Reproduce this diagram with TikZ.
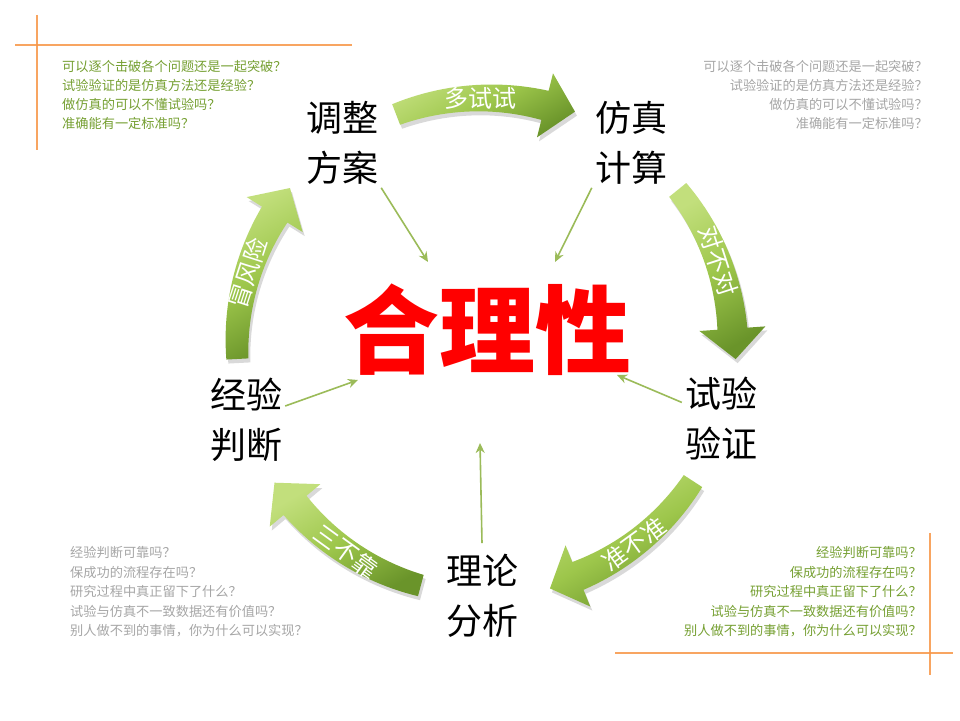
\documentclass[tikz,border=0pt]{standalone}
\usepackage{fontspec}
\newfontfamily\cjk{Noto Sans CJK SC}
\usetikzlibrary{arrows.meta,calc}
\definecolor{ogreen}{HTML}{9BBB59}
\definecolor{qgreen}{HTML}{76A032}
\definecolor{qgrey}{HTML}{A6A6A6}
\definecolor{orng}{HTML}{F79646}
\definecolor{glight}{HTML}{C2DF7C}
\definecolor{gmid}{HTML}{9DC64B}
\definecolor{gdark}{HTML}{6A942A}
\tikzset{
  bignode/.style={font=\cjk\fontsize{36}{50}\selectfont, align=center, inner sep=3pt, text=black},
  qline/.style={font=\cjk\fontsize{13.2}{14}\selectfont, inner sep=0pt},
  conn/.style={draw=ogreen, line width=1.6pt, -{Stealth[length=10pt,width=9pt]}},
  arrowlabel/.style={font=\cjk\fontsize{24}{26}\selectfont, text=white, inner sep=0pt},
  orangeline/.style={draw=orng, line width=1.6pt, opacity=0.85},
}
\newcommand\cyarrow[5]{% #1 name, #2 mid angle, #3 label, #4 label rotation, #5 label angle
  \pgfmathsetmacro\aT{#2+21}%
  \pgfmathsetmacro\aB{#2-14}%
  \pgfmathsetmacro\aP{#2-21}%
  \def\cypath{plot[domain=\aT:\aB,samples=25] (\x:{248+11+4*(\aT-\x)/35}) -- (\aB:281) -- (\aP:251) -- (\aB:215) -- plot[domain=\aB:\aT,samples=25] (\x:{248-11-4*(\aT-\x)/35}) -- cycle}%
  \begin{scope}[shift={(485,374)}]
    \fill[black,opacity=0.15,shift={(2,-4)}] \cypath;
    \shade[top color=glight, bottom color=gdark, middle color=gmid, shading angle=30] \cypath;
    \node[arrowlabel, rotate=#4] (#1) at (#5:248) {#3};
  \end{scope}}
\begin{document}
\begin{tikzpicture}[x=1pt,y=1pt]
\fill[white] (0,0) rectangle (960,720);
\useasboundingbox (0,0) rectangle (960,720);

% orange corner lines
\draw[orangeline] (15,675) -- (352,675);
\draw[orangeline] (37,705) -- (37,570);
\draw[orangeline] (615,67) -- (953,67);
\draw[orangeline] (930,187) -- (930,45);

% question texts
\foreach \t [count=\i] in {可以逐个击破各个问题还是一起突破？,试验验证的是仿真方法还是经验？,做仿真的可以不懂试验吗？,准确能有一定标准吗？}
  \node[qline, text=qgreen, anchor=base west] (tl\i) at (62,{648.4-19*(\i-1)}) {\t};
\foreach \t [count=\i] in {可以逐个击破各个问题还是一起突破？,试验验证的是仿真方法还是经验？,做仿真的可以不懂试验吗？,准确能有一定标准吗？}
  \node[qline, text=qgrey, anchor=base east] (tr\i) at (928,{648.4-19*(\i-1)}) {\t};
\foreach \t [count=\i] in {经验判断可靠吗？,保成功的流程存在吗？,研究过程中真正留下了什么？,试验与仿真不一致数据还有价值吗？,别人做不到的事情，你为什么可以实现？}
  \node[qline, text=qgrey, anchor=base west] (bl\i) at (70,{162.4-19.5*(\i-1)}) {\t};
\foreach \t [count=\i] in {经验判断可靠吗？,保成功的流程存在吗？,研究过程中真正留下了什么？,试验与仿真不一致数据还有价值吗？,别人做不到的事情，你为什么可以实现？}
  \node[qline, text=qgreen, anchor=base east] (br\i) at (922,{162.4-19.5*(\i-1)}) {\t};

% curved cycle arrows
\cyarrow{a1}{90}{多试试}{0}{91}
\cyarrow{a2}{18}{对不对}{-72}{20}
\cyarrow{a3}{-54}{准不准}{36}{-53}
\cyarrow{a4}{-126}{三不靠}{-36}{-124}
\cyarrow{a5}{162}{冒风险}{72}{163}

% nodes
\node[bignode] (n1) at (342,577) {调整\\方案};
\node[bignode] (n2) at (631,577) {仿真\\计算};
\node[bignode] (n3) at (721,301) {试验\\验证};
\node[bignode] (n4) at (482,124) {理论\\分析};
\node[bignode] (n5) at (246,300) {经验\\判断};
\node[font=\cjk\bfseries\fontsize{96}{100}\selectfont, text=red, inner sep=0pt] (c) at (487,390) {合理性};

% connectors toward centre
\coordinate (e1) at (428,458);
\coordinate (e2) at (555,458);
\coordinate (e3) at (617,345);
\coordinate (e4) at (480,277);
\coordinate (e5) at (358,340);
\draw[conn] (n1.south east) -- (e1);
\draw[conn] (n2.south west) -- (e2);
\draw[conn] (n3) -- (e3);
\draw[conn] ([yshift=8pt]n4.north) -- (e4);
\draw[conn] (n5) -- (e5);
\end{tikzpicture}
\end{document}
